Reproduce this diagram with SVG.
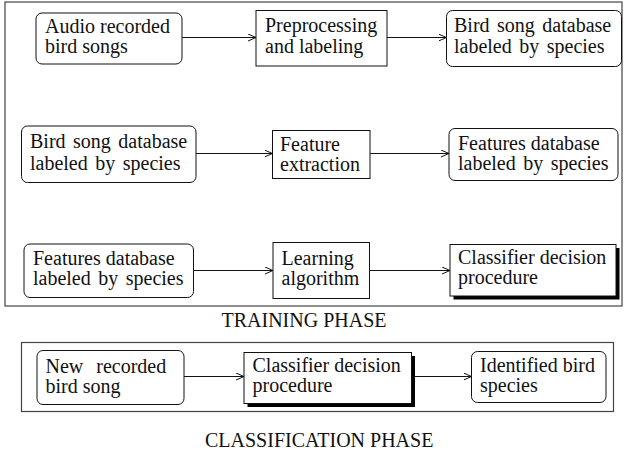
<svg xmlns="http://www.w3.org/2000/svg" width="624" height="450" viewBox="0 0 624 450">
<style>
  .frame { fill: none; stroke: #444; stroke-width: 1.2; }
  .box { fill: #fff; stroke: #111; stroke-width: 1; }
  .shadow { fill: #000; stroke: none; }
  .t { font-family: "Liberation Serif", "Times New Roman", serif; font-size: 20px; fill: #111; }
  .ws { word-spacing: 2.5px; }
  .cap { font-family: "Liberation Serif", "Times New Roman", serif; font-size: 20px; fill: #111; }
  .edge { fill: none; stroke: #111; stroke-width: 1; marker-end: url(#arr); }
</style>
<defs>
  <marker id="arr" markerUnits="userSpaceOnUse" markerWidth="10" markerHeight="10" refX="8" refY="4" orient="auto">
    <path d="M0,0.5 L8,4 L0,7.5" fill="none" stroke="#111" stroke-width="1"/>
  </marker>
</defs>
<rect width="624" height="450" fill="#fff"/>

<g id="training-frame">
  <rect class="frame" x="5" y="2" width="617" height="304"/>
  <text class="cap" x="221.5" y="326.5">TRAINING PHASE</text>
</g>
<g id="classification-frame">
  <rect class="frame" x="21.5" y="342.5" width="592" height="69"/>
  <text class="cap" x="205" y="446.5">CLASSIFICATION PHASE</text>
</g>

<g id="edges">
  <line class="edge" x1="182" y1="37.5" x2="256" y2="37.5"/>
  <line class="edge" x1="387" y1="37.5" x2="446.5" y2="37.5"/>
  <line class="edge" x1="196" y1="153.5" x2="272.5" y2="153.5"/>
  <line class="edge" x1="370" y1="153.5" x2="449" y2="153.5"/>
  <line class="edge" x1="193.5" y1="270.5" x2="273" y2="270.5"/>
  <line class="edge" x1="369.5" y1="270.5" x2="450" y2="270.5"/>
  <line class="edge" x1="184" y1="376.5" x2="244" y2="376.5"/>
  <line class="edge" x1="415" y1="376.5" x2="471.5" y2="376.5"/>
</g>

<g id="n1">
  <rect class="box" x="36" y="13" width="146" height="51" rx="6"/>
  <text class="t" x="45" y="33.3">Audio recorded</text>
  <text class="t" x="45" y="53.3">bird songs</text>
</g>
<g id="n2">
  <rect class="box" x="256" y="10.5" width="131" height="55.5"/>
  <text class="t" x="265" y="31.7">Preprocessing</text>
  <text class="t" x="265" y="53">and labeling</text>
</g>
<g id="n3">
  <rect class="box" x="446.5" y="10.5" width="175" height="56" rx="6"/>
  <text class="t ws" x="454" y="32">Bird song database</text>
  <text class="t ws" x="454" y="53">labeled by species</text>
</g>

<g id="n4">
  <rect class="box" x="21.5" y="126" width="174.5" height="56.5" rx="6"/>
  <text class="t ws" x="30" y="148">Bird song database</text>
  <text class="t ws" x="30" y="169.5">labeled by species</text>
</g>
<g id="n5">
  <rect class="box" x="272.5" y="130.5" width="97.5" height="48"/>
  <text class="t" x="280" y="150.75">Feature</text>
  <text class="t" x="280" y="170.75">extraction</text>
</g>
<g id="n6">
  <rect class="box" x="449" y="128.5" width="169" height="52" rx="6"/>
  <text class="t" x="458" y="149.5">Features database</text>
  <text class="t ws" x="458" y="169.5">labeled by species</text>
</g>

<g id="n7">
  <rect class="box" x="24" y="244" width="169.5" height="53.5" rx="6"/>
  <text class="t" x="33" y="264.75">Features database</text>
  <text class="t ws" x="33" y="284.75">labeled by species</text>
</g>
<g id="n8">
  <rect class="box" x="273" y="242.5" width="96.5" height="56"/>
  <text class="t" x="281.5" y="265">Learning</text>
  <text class="t" x="281.5" y="285">algorithm</text>
</g>
<g id="n9">
  <rect class="shadow" x="453.5" y="248" width="166" height="51.5"/>
  <rect class="box" x="450" y="244.5" width="166" height="51.5"/>
  <text class="t" x="458" y="264.25">Classifier decision</text>
  <text class="t" x="458" y="284.25">procedure</text>
</g>

<g id="n10">
  <rect class="box" x="37" y="350.5" width="147" height="54" rx="6"/>
  <text class="t" x="45.5" y="372.5" style="word-spacing:8px">New recorded</text>
  <text class="t" x="45.5" y="392.5">bird song</text>
</g>
<g id="n11">
  <rect class="shadow" x="247.5" y="356" width="167.5" height="51"/>
  <rect class="box" x="244" y="352.5" width="167.5" height="51"/>
  <text class="t" x="252.5" y="371.5">Classifier decision</text>
  <text class="t" x="252.5" y="391.5">procedure</text>
</g>
<g id="n12">
  <rect class="box" x="471.5" y="351.5" width="134.5" height="51" rx="6"/>
  <text class="t" x="480" y="372">Identified bird</text>
  <text class="t" x="480" y="392">species</text>
</g>
</svg>
